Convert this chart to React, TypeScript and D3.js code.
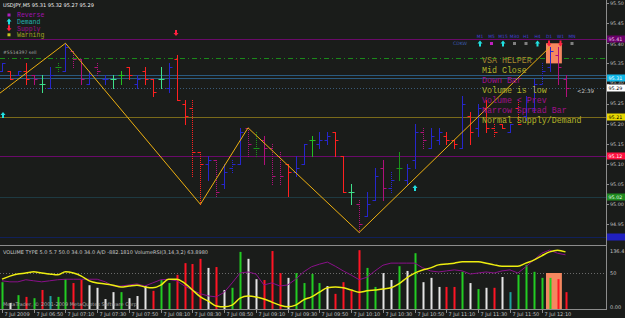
import React from 'react';
import * as d3 from 'd3';

const W = 625, H = 318;

// OHLC (USDJPY M5, 7 Jul 2009 06:30 .. 12:25)
const HIGH = [95.35,95.33,95.33,95.35,95.32,95.32,95.34,95.35,95.40,95.38,95.36,95.33,95.35,95.32,95.32,95.33,95.34,95.32,95.34,95.31,95.34,95.35,95.37,95.26,95.26,95.13,95.12,95.11,95.10,95.11,95.19,95.19,95.18,95.17,95.15,95.13,95.10,95.12,95.15,95.17,95.18,95.18,95.18,95.12,95.05,95.01,95.03,95.09,95.11,95.08,95.13,95.10,95.20,95.19,95.19,95.19,95.18,95.16,95.27,95.23,95.25,95.26,95.20,95.20,95.20,95.26,95.27,95.31,95.35,95.39,95.39,95.32];
const LOW = [95.33,95.31,95.32,95.30,95.30,95.28,95.29,95.33,95.33,95.34,95.30,95.30,95.32,95.30,95.29,95.30,95.31,95.29,95.30,95.27,95.29,95.28,95.26,95.20,95.07,95.00,95.06,95.02,95.04,95.08,95.10,95.12,95.12,95.10,95.05,95.05,95.02,95.07,95.10,95.12,95.14,95.15,95.12,95.03,95.00,94.93,94.97,95.01,95.01,95.03,95.06,95.05,95.09,95.14,95.14,95.15,95.15,95.14,95.14,95.15,95.17,95.18,95.17,95.19,95.18,95.20,95.21,95.23,95.30,95.33,95.30,95.27];
const OPEN = [95.33,95.33,95.32,95.33,95.32,95.30,95.29,95.34,95.33,95.38,95.36,95.30,95.34,95.31,95.31,95.32,95.34,95.30,95.33,95.31,95.31,95.29,95.36,95.25,95.24,95.13,95.10,95.11,95.05,95.09,95.10,95.19,95.14,95.16,95.14,95.12,95.10,95.08,95.10,95.16,95.15,95.16,95.18,95.12,95.03,95.00,94.97,95.01,95.09,95.04,95.09,95.06,95.11,95.18,95.14,95.16,95.17,95.16,95.14,95.22,95.19,95.24,95.19,95.20,95.18,95.24,95.22,95.24,95.30,95.34,95.37,95.31];
const CLOSE = [95.35,95.31,95.33,95.31,95.31,95.30,95.32,95.34,95.39,95.36,95.31,95.32,95.33,95.31,95.31,95.32,95.32,95.31,95.31,95.28,95.31,95.34,95.26,95.22,95.13,95.10,95.11,95.03,95.08,95.10,95.18,95.15,95.14,95.14,95.07,95.07,95.08,95.09,95.15,95.16,95.16,95.17,95.16,95.03,95.03,94.95,95.00,95.07,95.04,95.06,95.09,95.09,95.18,95.16,95.17,95.18,95.16,95.15,95.25,95.18,95.24,95.19,95.18,95.19,95.20,95.20,95.26,95.30,95.33,95.38,95.34,95.29];
const BAR_STYLE = ["B","R","B","R","M","L","B","D.","B","M.","M","B","M.","B","L","G","R","B","R","R","L","B","R","R","R.","R.","B","M.","B","B.","B","M.","D.","M","M.","M.","R","B","B","G","B","B","R","R","L","M.","B","B","M","B.","D","B","B","M.","B","B","R","R","B","R","B","R","R.","R","B","R.","B","B","B.","B","M","M"];

// Volume sub-window
const VOLUME = [62,14,32,28,25,44,30,28,69,60,67,55,49,23,39,39,25,30,53,42,67,60,79,106,104,116,95,97,44,49,132,116,69,67,134,83,72,83,60,81,60,53,35,62,42,136,95,51,83,67,99,88,129,62,72,51,51,51,86,60,46,49,49,74,39,79,102,86,72,72,69,39];
const VOLUME_TYPE = "gwgrgrtggrrwwwwgwwwrggrrrrwrwggwwrrrwggggwrrrrggwwgwgwwwrrgwgwrwtgggggrr";
const VOL_AVG = [69,76,81,83,86,83,81,79,86,83,76,65,60,58,55,51,53,55,51,49,55,69,69,60,44,28,18,7,5,9,25,30,28,23,16,9,5,9,21,28,39,49,51,49,44,39,42,44,46,49,58,72,83,90,95,102,104,106,109,109,109,106,102,99,99,99,106,113,123,132,136,132];
const VOL_RSI = [35,33,33,37,35,33,35,37,38,38,38,38,38,33,25,25,27,29,25,31,37,38,35,25,17,10,6,4,13,31,50,52,48,27,31,25,27,38,52,62,67,71,63,54,46,37,42,54,65,69,69,69,69,60,54,52,54,56,54,48,50,52,50,54,56,50,62,75,88,94,88,85];

// ZigZag vertices (bar index, price)
const ZZ_IDX = [-2, 8, 25, 31, 45, 69];
const ZZ_PRICE = [95.25, 95.40, 95.00, 95.19, 94.93, 95.39];

const TIME_LABELS = ["7 Jul 2009","7 Jul 06:50","7 Jul 07:10","7 Jul 07:30","7 Jul 07:50","7 Jul 08:10","7 Jul 08:30","7 Jul 08:50","7 Jul 09:10","7 Jul 09:30","7 Jul 09:50","7 Jul 10:10","7 Jul 10:30","7 Jul 10:50","7 Jul 11:10","7 Jul 11:30","7 Jul 11:50","7 Jul 12:10"];
const PRICE_TICKS = [95.50,95.45,95.40,95.35,95.30,95.25,95.20,95.15,95.10,95.05,95.00,94.95];

// horizontal objects
const LEVELS = [
  { p: 95.41, color: "#6a0a6a", dash: null, box: "#6a006a", txt: "#f0c0f0", label: "95.41" },
  { p: 95.363, color: "#1a8a1a", dash: "5,3,1,3", box: null, txt: null, label: "" },
  { p: 95.322, color: "#2a5a80", dash: null, box: null, txt: null, label: "" },
  { p: 95.314, color: "#2a5a80", dash: null, box: "#10b8e8", txt: "#ffffff", label: "95.31" },
  { p: 95.29, color: "#3a5a78", dash: "1,2", box: "#ffffff", txt: "#000000", label: "95.29" },
  { p: 95.216, color: "#7a6a1a", dash: null, box: "#e8d800", txt: "#000000", label: "95.21" },
  { p: 95.12, color: "#6a0a6a", dash: null, box: "#ff1040", txt: "#ffffff", label: "95.12" },
  { p: 95.018, color: "#1e3a42", dash: null, box: "#1f8a1f", txt: "#e0ffe0", label: "95.02" },
  { p: 94.92, color: "#10205a", dash: null, box: "#2020c0", txt: "#ffffff", label: "" },
];

const LEGEND = [
  { label: "Reverse", color: "#a010b0", icon: "dot" },
  { label: "Demand", color: "#20b0b0", icon: "up" },
  { label: "Supply", color: "#a0108a", icon: "down" },
  { label: "Warning", color: "#a0a020", icon: "sq" },
];
const TF_LABELS = ["M1","M5","M15","M30","H1","H4","D1","W1","MN"];
const TF_SIGNALS = ["up","dot","up","sq","sq","up","down","down","sq"];
const VSA_LINES = ["VSA HELPER","Mid Close","Down Bar","Volume is low","Volume < Prev","Narrow Spread Bar","Normal Supply/Demand"];
const VSA_COLORS = ["#a88a30","#b4b428","#a0108a","#b4b428","#a0108a","#a0108a","#b4b428"];

const BAR_COLORS: Record<string, string> = { B: "#2626cc", R: "#ff2020", M: "#b0107a", G: "#22c022", L: "#3ee08a", D: "#1a941a" };
const VOL_COLORS: Record<string, string> = { g: "#22cc22", w: "#e4e4e4", r: "#ff1424", t: "#1fa0a0" };

function Arrow({ cx, cy, dir, color }: { cx: number; cy: number; dir: string; color: string }) {
  if (dir === "up") {
    return <path d={`M${cx},${cy - 3}L${cx + 2.5},${cy}L${cx + 1},${cy}L${cx + 1},${cy + 3}L${cx - 1},${cy + 3}L${cx - 1},${cy}L${cx - 2.5},${cy}Z`} fill={color} />;
  }
  if (dir === "down") {
    return <path d={`M${cx},${cy + 3}L${cx + 2.5},${cy}L${cx + 1},${cy}L${cx + 1},${cy - 3}L${cx - 1},${cy - 3}L${cx - 1},${cy}L${cx - 2.5},${cy}Z`} fill={color} />;
  }
  return <rect x={cx - 1.5} y={cy - 1.5} width={3} height={3} fill={color} />;
}

export default function App() {
  const x = d3.scaleLinear().domain([0, 71]).range([2, 565.5]);
  const y = d3.scaleLinear().domain([95, 95.5]).range([204.3, 3]);
  const yv = d3.scaleLinear().domain([0, 136.4]).range([309, 250]);
  const yr = d3.scaleLinear().domain([0, 100]).range([299, 247]);
  const px = (i: number) => Math.round(x(i)) + 0.5;
  const py = (p: number) => Math.round(y(p)) + 0.5;

  const zz = d3.line<number>().x((_, k) => x(ZZ_IDX[k])).y((p) => y(p))(ZZ_PRICE) || "";
  const avgLine = d3.line<number>().x((_, i) => x(i)).y((v) => yv(v)).curve(d3.curveMonotoneX)(VOL_AVG) || "";
  const rsiLine = d3.line<number>().x((_, i) => x(i)).y((v) => yr(v))(VOL_RSI) || "";

  const font = "DejaVu Sans, sans-serif";
  const mono = "Liberation Mono, DejaVu Sans Mono, monospace";
  const axisX = 606.5;
  const tfX = d3.scaleLinear().domain([0, TF_LABELS.length - 1]).range([480, 572]);

  const boxes = LEVELS.filter((l) => l.box);
  // tick label baseline, nudged away from overlapping price boxes
  const tickY = (p: number) => {
    let base = y(p) + 1.8;
    for (const b of boxes) {
      const by = Math.round(y(b.p));
      const top = by - 3.5, bot = by + 3.5;
      const tTop = base - 3.7, tBot = base + 0.3;
      if (tBot > top && tTop < bot) {
        base = y(p) < by ? top - 0.6 : bot + 3.9;
      }
    }
    return base;
  };

  return (
    <svg width={W} height={H} style={{ position: "fixed", left: 0, top: 0, background: "#1a1c1a" }}>
      <defs>
        <clipPath id="main"><rect x={0} y={0} width={606} height={245} /></clipPath>
      </defs>
      <rect width={W} height={H} fill="#1a1c1a" />

      <g clipPath="url(#main)">
        {LEVELS.map((l, k) => (
          <line key={k} x1={0} x2={606} y1={py(l.p)} y2={py(l.p)} stroke={l.color} strokeWidth={1} strokeDasharray={l.dash || undefined} />
        ))}
        <rect x={px(68.5) - 0.5} y={y(95.40)} width={x(70.5) - x(68.5)} height={y(95.35) - y(95.40)} fill="#f5875f" />
        {HIGH.map((h, i) => {
          const st = BAR_STYLE[i];
          const c = BAR_COLORS[st[0]];
          const dotted = st.length > 1;
          const cx = px(i);
          return (
            <g key={i} stroke={c} strokeWidth={1}>
              <line x1={cx} x2={cx} y1={Math.round(y(h))} y2={Math.round(y(LOW[i])) + 1} strokeDasharray={dotted ? "1,1" : undefined} />
              <line x1={cx - 3} x2={cx} y1={py(OPEN[i])} y2={py(OPEN[i])} />
              <line x1={cx} x2={cx + 3} y1={py(CLOSE[i])} y2={py(CLOSE[i])} />
            </g>
          );
        })}
        <path d={zz} fill="none" stroke="#eeb010" strokeWidth={1} />
      </g>

      {/* header & legend */}
      <text x={3} y={7} fontSize={5} fill="#f0f0f0" fontFamily={font}>USDJPY,M5  95.31 95.32 95.27 95.29</text>
      {LEGEND.map((l, k) => (
        <g key={k}>
          <Arrow cx={9} cy={15 + k * 6.6} dir={l.icon} color={l.icon === "up" ? "#20e0e0" : l.icon === "down" ? "#ff2040" : l.icon === "sq" ? "#c8c820" : "#b020c0"} />
          <text x={17} y={17.3 + k * 6.6} fontSize={6.5} fill={l.color} fontFamily={mono}>{l.label}</text>
        </g>
      ))}
      <text x={3} y={54} fontSize={4.6} fill="#a8a8a8" fontFamily={font}>#5514397 sell</text>
      <Arrow cx={176} cy={33} dir="down" color="#ff2040" />
      <Arrow cx={3} cy={115} dir="up" color="#20e0e0" />
      <Arrow cx={415} cy={188} dir="up" color="#20e0e0" />

      {/* timeframe panel */}
      <text x={460} y={44.5} fontSize={4.6} fill="#3a5ab0" fontFamily={font} textAnchor="middle">CDKW</text>
      {TF_LABELS.map((t, k) => (
        <g key={t}>
          <text x={tfX(k)} y={38} fontSize={4.4} fill="#4040d8" fontFamily={font} textAnchor="middle">{t}</text>
          <Arrow cx={tfX(k)} cy={43.5} dir={TF_SIGNALS[k]} color={TF_SIGNALS[k] === "up" ? "#20e0e0" : TF_SIGNALS[k] === "down" ? "#ff2040" : TF_SIGNALS[k] === "dot" ? "#c020c0" : "#808080"} />
        </g>
      ))}
      {VSA_LINES.map((t, k) => (
        <text key={t} x={482} y={63 + k * 10} fontSize={8.3} fill={VSA_COLORS[k]} fontFamily={mono}>{t}</text>
      ))}
      <text x={577} y={93} fontSize={5.5} fill="#c8c8c8" fontFamily={font}>&lt;2:39</text>

      {/* price axis */}
      <line x1={axisX} x2={axisX} y1={0} y2={310} stroke="#8c8c8c" />
      {PRICE_TICKS.map((p) => (
        <g key={p}>
          <line x1={606} x2={609} y1={py(p)} y2={py(p)} stroke="#8c8c8c" />
          <text x={610} y={tickY(p)} fontSize={4.8} fill="#c0c0c0" fontFamily={font}>{p.toFixed(2)}</text>
        </g>
      ))}
      {boxes.map((l, k) => (
        <g key={k}>
          <rect x={607} y={Math.round(y(l.p)) - 3.5} width={18} height={7} fill={l.box!} />
          <text x={608.5} y={Math.round(y(l.p)) + 1.8} fontSize={4.8} fill={l.txt!} fontFamily={font}>{l.label}</text>
        </g>
      ))}

      {/* separator */}
      <line x1={0} x2={607} y1={245.5} y2={245.5} stroke="#8c8c8c" />

      {/* volume window */}
      <line x1={0} x2={606} y1={273.5} y2={273.5} stroke="#6a6a6a" strokeDasharray="1,2" />
      <rect x={px(68.5) - 0.5} y={273} width={x(70.5) - x(68.5)} height={36} fill="#f5875f" />
      {VOLUME.map((v, i) => (
        <rect key={i} x={Math.round(x(i)) - 0.5} y={yv(v)} width={2} height={309 - yv(v)} fill={VOL_COLORS[VOLUME_TYPE[i]]} />
      ))}
      <path d={rsiLine} fill="none" stroke="#8a108a" strokeWidth={1} />
      <path d={avgLine} fill="none" stroke="#eeee10" strokeWidth={1.5} />
      <text x={3} y={254} fontSize={5} fill="#c8c8c8" fontFamily={font}>VOLUME TYPE 5.0 5.7 50.0 34.0 34.0  A/D -882.1810  VolumeRSI(3,14,3,2) 63.8980</text>
      <text x={3} y={306} fontSize={5} fill="#a8a8a8" fontFamily={font}>MetaTrader, © 2001-2009 MetaQuotes Software Corp.</text>
      <text x={610} y={252.5} fontSize={5} fill="#c0c0c0" fontFamily={font}>136.4</text>
      <text x={610} y={275} fontSize={5} fill="#c0c0c0" fontFamily={font}>50</text>
      <text x={610} y={309} fontSize={5} fill="#c0c0c0" fontFamily={font}>0.00</text>

      {/* time axis */}
      <line x1={0} x2={607} y1={309.5} y2={309.5} stroke="#8c8c8c" />
      {TIME_LABELS.map((t, k) => (
        <g key={t}>
          <line x1={px(k * 4)} x2={px(k * 4)} y1={310} y2={313} stroke="#8c8c8c" />
          <text x={px(k * 4) + 2} y={316} fontSize={5} fill="#c0c0c0" fontFamily={font}>{t}</text>
        </g>
      ))}
    </svg>
  );
}
